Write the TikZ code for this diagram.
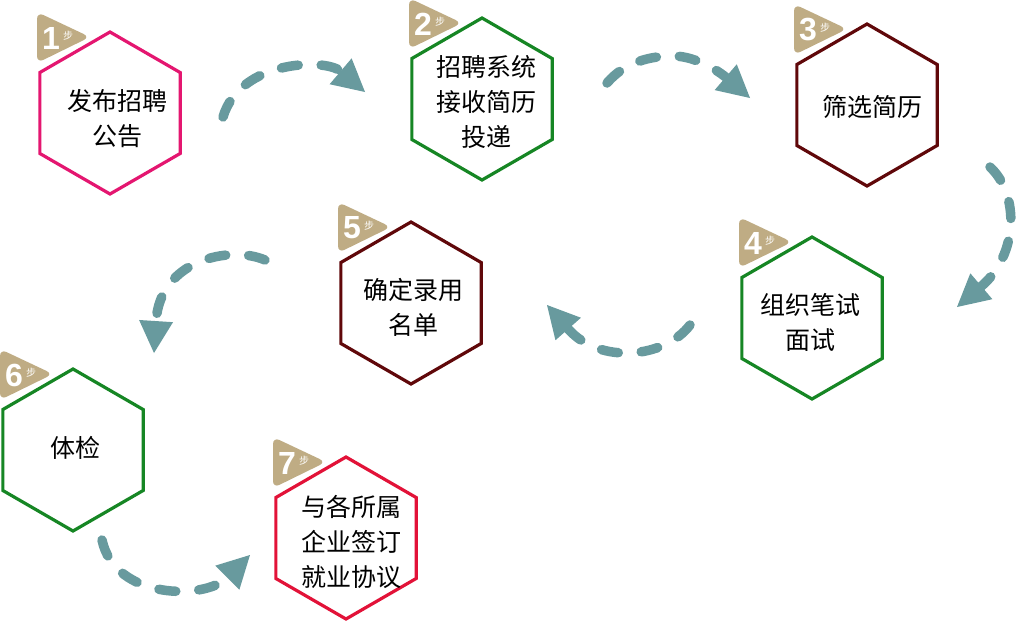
\documentclass[tikz,border=0pt]{standalone}
\usepackage{fontspec}
\newfontfamily\cjk{Noto Sans CJK SC}
\newfontfamily\numfont{Liberation Sans}
\usetikzlibrary{shapes.geometric,arrows.meta}
\definecolor{hpink}{RGB}{228,22,112}
\definecolor{hgreen}{RGB}{22,134,36}
\definecolor{hmaroon}{RGB}{96,8,10}
\definecolor{hred}{RGB}{226,18,56}
\definecolor{flowcol}{RGB}{104,154,158}
\definecolor{badgecol}{RGB}{191,172,132}
\newcommand\stepbadge[4]{%
  \fill[badgecol, rounded corners=7pt] ({#1-73},{#2-19}) -- ({#1-73},{#2+32}) -- ({#1-20},{#2+6}) -- cycle;
  \node[digit] (#4n) at ({#1-59},{#2+7}) {#3};
  \node[bu] (#4b) at ({#1-42},{#2+5}) {步};
}
\begin{document}
\begin{tikzpicture}[x=1pt,y=-1pt,
  hexa/.style={draw, regular polygon, regular polygon sides=6, regular polygon rotate=30,
     minimum size=162pt, inner sep=0pt, outer sep=0pt, line width=3.2pt, fill=white},
  txt/.style={align=center, inner sep=0pt, font=\cjk\fontsize{25pt}{35pt}\selectfont, text=black},
  digit/.style={inner sep=0pt, text=white, font=\numfont\bfseries\fontsize{32pt}{32pt}\selectfont},
  bu/.style={inner sep=0pt, text=white, font=\cjk\fontsize{10pt}{10pt}\selectfont},
  flow/.style={draw=flowcol, line width=9.5pt, line cap=round, dash pattern=on 17pt off 23pt,
     -{Triangle[length=32pt,width=34pt,line width=0pt]}}
]
\useasboundingbox (0,0) rectangle (1028,625);

% badges
\stepbadge{110}{31}{1}{bg1}
\stepbadge{482}{17}{2}{bg2}
\stepbadge{867}{23}{3}{bg3}
\stepbadge{812}{236}{4}{bg4}
\stepbadge{411}{221}{5}{bg5}
\stepbadge{73}{368}{6}{bg6}
\stepbadge{346}{456}{7}{bg7}

% hexagons
\node[hexa, draw=hpink]   (h1) at (110,113) {};
\node[hexa, draw=hgreen]  (h2) at (482,99) {};
\node[hexa, draw=hmaroon] (h3) at (867,105) {};
\node[hexa, draw=hgreen]  (h4) at (812,318) {};
\node[hexa, draw=hmaroon] (h5) at (411,303) {};
\node[hexa, draw=hgreen]  (h6) at (73,450) {};
\node[hexa, draw=hred]    (h7) at (346,538) {};

% texts
\node[txt] (t1) at (117,119) {发布招聘\\公告};
\node[txt] (t2) at (486,102) {招聘系统\\接收简历\\投递};
\node[txt] (t3) at (872,107) {筛选简历};
\node[txt] (t4) at (810,322) {组织笔试\\面试};
\node[txt] (t5) at (413,307) {确定录用\\名单};
\node[txt] (t6) at (75,448) {体检};
\node[txt] (t7) at (351,542) {与各所属\\企业签订\\就业协议};

% arrow end points
\coordinate (a1s) at (223,117); \coordinate (a1e) at (365,92);
\coordinate (a2s) at (607,83);  \coordinate (a2m) at (673,56); \coordinate (a2e) at (750,98);
\coordinate (a3s) at (990,167); \coordinate (a3e) at (957,307);
\coordinate (a4s) at (690,325); \coordinate (a4e) at (547,305);
\coordinate (a5s) at (265,260); \coordinate (a5e) at (154,353);
\coordinate (a6s) at (102,540); \coordinate (a6e) at (250,555);

\draw[flow] (a1s) .. controls (240,60) and (325,58) .. (a1e);
\draw[flow] (a2s) .. controls (625,62) and (650,56) .. (a2m) .. controls (698,56) and (722,74) .. (a2e);
\draw[flow] (a3s) .. controls (1020,195) and (1018,255) .. (a3e);
\draw[flow] (a4s) .. controls (665,358) and (600,365) .. (a4e);
\draw[flow] (a5s) .. controls (230,245) and (160,260) .. (a5e);
\draw[flow] (a6s) .. controls (115,600) and (205,600) .. (a6e);
\end{tikzpicture}
\end{document}
